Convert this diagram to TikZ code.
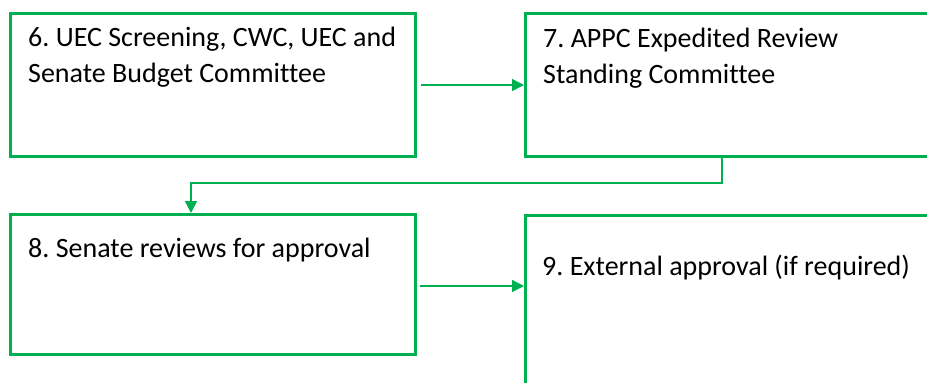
\documentclass[tikz,border=0pt]{standalone}
\usepackage{fontspec}
\setmainfont{Carlito}[Ligatures=NoCommon]
\frenchspacing
\usetikzlibrary{arrows.meta}
\definecolor{grn}{HTML}{00B050}
\tikzset{
  box/.style={draw=grn, line width=2.6pt, fill=none, inner sep=0pt, anchor=north west},
  lbl/.style={anchor=base west, inner sep=0pt, font=\fontsize{28pt}{36pt}\selectfont\frenchspacing, align=left},
  conn/.style={draw=grn, line width=1.4pt, -{Triangle[length=12pt,width=12pt]}}
}
\begin{document}
\begin{tikzpicture}[x=1pt,y=-1pt]
\useasboundingbox (0,0) rectangle (927,383);
\clip (0,0) rectangle (927,383);
\node[box, minimum width=405pt, minimum height=143pt] (b6) at (9,12) {};
\node[box, minimum width=420pt, minimum height=143pt] (b7) at (524,12) {};
\node[box, minimum width=405pt, minimum height=140pt] (b8) at (9,213) {};
\node[box, minimum width=420pt, minimum height=200pt] (b9) at (524,214) {};
\node[lbl] (t6) at (28,82.7) {6. UEC Screening, CWC, UEC and\\Senate Budget Committee};
\node[lbl] (t7) at (543,83) {7. APPC Expedited Review\\Standing Committee};
\node[lbl] (t8) at (28,257) {8. Senate reviews for approval};
\node[lbl] (t9) at (542,275) {9. External approval (if required)};
\coordinate (a1s) at (421,85);
\coordinate (a2s) at (420,286);
\draw[conn] (a1s) -- (a1s -| b7.west);
\draw[conn] (a2s) -- (a2s -| b9.west);
\coordinate (k1) at (722,183);
\coordinate (k2) at (191,183);
\draw[conn] (k1 |- b7.south) -- (k1) -- (k2) -- (k2 |- b8.north);
\end{tikzpicture}
\end{document}
